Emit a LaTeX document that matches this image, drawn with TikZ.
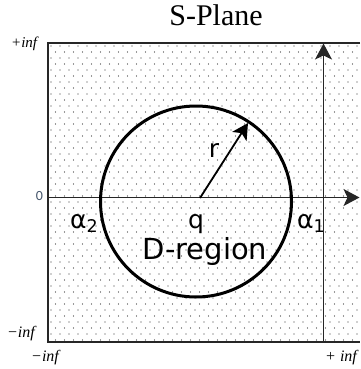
\documentclass[tikz,border=0pt]{standalone}
\usepackage{fontspec}
\setmainfont{Liberation Serif}
\newfontfamily\dejavu{DejaVu Sans}
\newfontfamily\carl{Carlito}
\usetikzlibrary{arrows.meta}
\definecolor{zerocol}{HTML}{44546A}
\definecolor{dotcol}{HTML}{333333}
\definecolor{framecol}{HTML}{262626}
\begin{document}
\begin{tikzpicture}[x=1pt,y=-1pt,
  frameline/.style={draw=framecol,line width=2pt},
  axisline/.style={draw=framecol,line width=1.8pt,-{Stealth[length=16pt,width=17pt,inset=4pt]}},
  infl/.style={inner sep=0pt,font=\fontsize{15}{17}\selectfont\itshape},
  biglbl/.style={inner sep=0pt,anchor=base,font=\dejavu\fontsize{25}{29}\selectfont},
]
\useasboundingbox (0,0) rectangle (360,369);
% dotted fill
\begin{scope}
\clip (48,43) rectangle (360,342);
\foreach \j in {0,...,49}{
  \foreach \i in {0,...,34}{
    \fill[dotcol] ({51+\i*9+mod(\j,2)*4.5},{46+\j*6}) circle (0.7);
  }
}
\end{scope}
% frame
\draw[frameline] (360,43) -- (48,43) -- (48,342) -- (360,342);
% axes
\coordinate (hl) at (48,197.5);
\coordinate (hr) at (359.5,197.5);
\coordinate (vb) at (323.5,342);
\coordinate (vt) at (323.5,43.5);
\draw[axisline] (hl) -- (hr);
\draw[axisline,line width=1.4pt] (vb) -- (vt);
% circle
\node (circ) [draw,circle,line width=3pt,minimum size=191pt,inner sep=0pt] at (196,201.5) {};
% radius
\coordinate (q) at (200,198);
\coordinate (rt) at (248,123);
\draw[line width=1.8pt,-{Stealth[length=16pt,width=17pt,inset=4pt]}] (q) -- (rt);
% labels
\node (title) [inner sep=0pt,anchor=base,font=\fontsize{30}{34}\selectfont] at (216,26) {S-Plane};
\node (ptop) [infl,anchor=base west] at (11,48) {+inf};
\node (mleft) [infl,anchor=base west,font=\fontsize{16}{18}\selectfont\itshape] at (7,337) {−inf};
\node (mbot) [infl,anchor=base west,font=\fontsize{16}{18}\selectfont\itshape] at (31,361) {−inf};
\node (pbot) [infl,anchor=base west,font=\fontsize{16}{18}\selectfont\itshape] at (325,361) {+ inf};
\node (zero) [inner sep=0pt,anchor=base,text=zerocol,font=\carl\fontsize{14}{16}\selectfont] at (39.5,200.5) {0};
\node (a2) [biglbl,anchor=base west] at (70,228) {α\textsubscript{2}};
\node (ql) [biglbl] at (196,228) {q};
\node (a1) [biglbl,anchor=base west] at (297,228) {α\textsubscript{1}};
\node (rl) [biglbl] at (214,157) {r};
\node (dr) [biglbl,font=\dejavu\fontsize{29}{33}\selectfont] at (205,259) {D-region};
\end{tikzpicture}
\end{document}
